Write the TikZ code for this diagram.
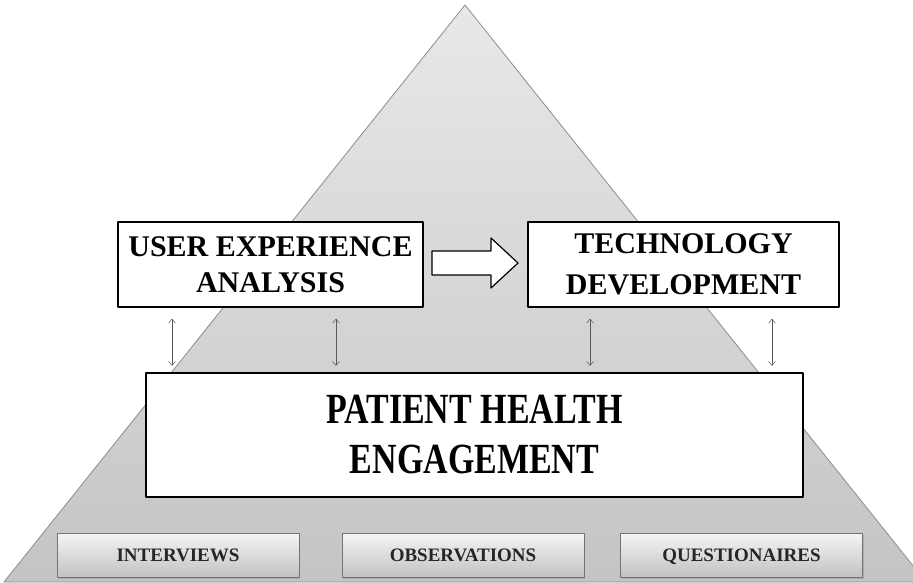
\documentclass[tikz,border=0pt]{standalone}
\usepackage{fontspec}
\setmainfont{Liberation Serif}
\newfontfamily\narrowfont[FakeStretch=0.79]{Liberation Serif}
\usetikzlibrary{shadows,arrows.meta}

\begin{document}
\begin{tikzpicture}[x=1pt,y=-1pt,line join=round,>={Straight Barb[length=4pt,width=7pt]}]
	\tikzset{stage/.style={draw=black,line width=1.6pt,fill=white,align=center,inner sep=0pt,
			font=\bfseries\fontsize{30}{36}\selectfont},
		method/.style={draw=black!55,line width=0.8pt,top color=black!4,bottom color=black!24,
			drop shadow={opacity=0.35,shadow xshift=1pt,shadow yshift=-1.5pt},
			minimum width=242pt,minimum height=44pt,inner sep=0pt,text=black!85,
			text height=12.5pt,text depth=0pt,
			font=\bfseries\fontsize{19}{22}\selectfont},
		link/.style={<->,draw=black!65,line width=0.5pt,shorten <=11pt,shorten >=6pt}}
	\useasboundingbox (0,0) rectangle (913,582);
	% the pyramid, cut off at the right edge
	\begin{scope}
		\clip (0,0) rectangle (913,582);
		\shade[draw=black!45,line width=0.8pt,top color=black!9,bottom color=black!23]
			(465,5) -- (926,582) -- (4,582) -- cycle;
	\end{scope}
	\node[stage,minimum width=305pt,minimum height=85pt] (uea) at (270.5,264.5) {USER EXPERIENCE\\ANALYSIS};
	\node[stage,minimum width=311pt,minimum height=85pt,
		font=\bfseries\fontsize{30}{41}\selectfont] (tech) at (683.5,264.5) {TECHNOLOGY\\DEVELOPMENT};
	\node[stage,line width=2.4pt,minimum width=657pt,minimum height=124pt,
		font=\narrowfont\bfseries\fontsize{43}{50}\selectfont] (phe) at (474.5,435) {PATIENT HEALTH\\ENGAGEMENT};
	% block arrow between the two stages
	\draw[line width=1.2pt,fill=white] (432,251) -- (491,251) -- (491,238) -- (518,263)
		-- (491,288) -- (491,275) -- (432,275) -- cycle;
	\foreach \x/\a in {172/uea,336/uea,590/tech,772/tech}
		\draw[link] (\x,0 |- \a.south) -- (\x,0 |- phe.north);
	\node[method] (intv) at (178,555) {INTERVIEWS};
	\node[method] (obs) at (463,555.5) {OBSERVATIONS};
	\node[method] (quest) at (741.5,555) {QUESTIONAIRES};
\end{tikzpicture}
\end{document}
